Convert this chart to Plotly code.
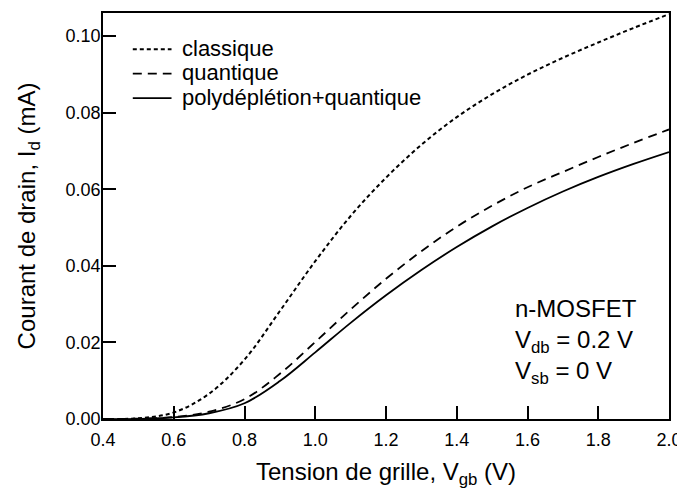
import plotly.graph_objects as go

vgb = [0.4, 0.5, 0.6, 0.7, 0.8, 0.9, 1.0, 1.1, 1.2, 1.3, 1.4, 1.5, 1.6, 1.7, 1.8, 1.9, 2.0]
id_classique = [0.0, 0.0002, 0.0017, 0.0066, 0.0155, 0.0282, 0.0412, 0.0530, 0.0630,
                0.0716, 0.0788, 0.0848, 0.0899, 0.0943, 0.0983, 0.1021, 0.1057]
id_quantique = [0.0, 0.0001, 0.0005, 0.0019, 0.0052, 0.0118, 0.0201, 0.0286, 0.0366,
                0.0438, 0.0502, 0.0557, 0.0605, 0.0645, 0.0684, 0.0721, 0.0756]
id_poly = [0.0, 0.00003, 0.0004, 0.0015, 0.0041, 0.0099, 0.0174, 0.0251, 0.0323,
           0.0389, 0.0449, 0.0503, 0.0551, 0.0594, 0.0632, 0.0666, 0.0697]

series_names = ["classique", "quantique", "polydéplétion+quantique"]
x_ticks = [0.4, 0.6, 0.8, 1.0, 1.2, 1.4, 1.6, 1.8, 2.0]
y_ticks = [0.00, 0.02, 0.04, 0.06, 0.08, 0.10]

font = "Liberation Sans, Arial, Helvetica, sans-serif"
styles = [dict(color="black", width=2, dash="4px,3px"),
          dict(color="black", width=1.8, dash="9px,6px"),
          dict(color="black", width=1.8)]

fig = go.Figure()
for name, ys, st in zip(series_names, [id_classique, id_quantique, id_poly], styles):
    fig.add_trace(go.Scatter(x=vgb, y=ys, mode="lines", name=name, showlegend=False,
                             line=dict(shape="spline", smoothing=1.0, **st)))

# plot area in page pixels: x 103..673, y 11..419
def px(x):
    return (x - 103) / 570
def py(y):
    return (419 - y) / 408

legend_rows = [47.5, 72.0, 96.5]
for name, st, ry in zip(series_names, styles, legend_rows):
    fig.add_shape(type="line", xref="paper", yref="paper",
                  x0=px(133), x1=px(172), y0=py(ry), y1=py(ry), line=st)
    fig.add_annotation(xref="paper", yref="paper", x=px(181), y=py(ry - 1),
                       xanchor="left", yanchor="middle", showarrow=False, text=name,
                       font=dict(family=font, size=22, color="black"))

fig.add_annotation(xref="paper", yref="paper", x=px(516), y=py(341),
                   xanchor="left", yanchor="middle", showarrow=False, align="left",
                   text="n-MOSFET<br>V<sub>db</sub> = 0.2 V<br>V<sub>sb</sub> = 0 V",
                   font=dict(family=font, size=24, color="black"))

axis_common = dict(showline=True, linecolor="black", linewidth=1.6, mirror=True,
                   ticks="inside", ticklen=13, tickwidth=1.6, tickcolor="black",
                   showgrid=False, zeroline=False, ticklabeloverflow="allow",
                   tickfont=dict(family=font, size=18, color="black"))

fig.update_xaxes(range=[0.4, 2.0], tickvals=x_ticks, tickformat=".1f",
                 ticklabelstandoff=4,
                 title=dict(text="Tension de grille, V<sub>gb</sub> (V)",
                            font=dict(family=font, size=24, color="black"), standoff=14),
                 **axis_common)
fig.update_yaxes(range=[0, 0.106], tickvals=y_ticks, tickformat=".2f",
                 ticklabelstandoff=-3,
                 title=dict(text="Courant de drain, I<sub>d</sub> (mA)",
                            font=dict(family=font, size=24, color="black"), standoff=23),
                 **axis_common)

# the page body keeps its default 8px margin, so the figure is 8px smaller
fig.update_layout(width=677, height=484,
                  margin=dict(l=95, r=12, t=3, b=73),
                  paper_bgcolor="white", plot_bgcolor="white",
                  font=dict(family=font, color="black"),
                  showlegend=False)

fig.write_html("out.html")
